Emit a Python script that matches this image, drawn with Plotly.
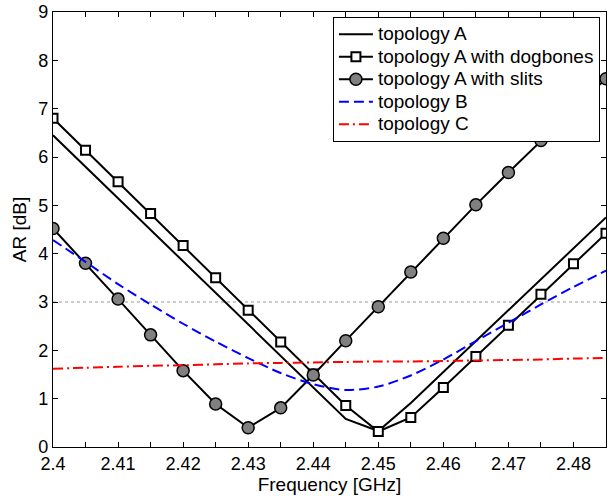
import plotly.graph_objects as go

# ---------------- data ----------------
freq = [2.400, 2.405, 2.410, 2.415, 2.420, 2.425, 2.430, 2.435, 2.440,
        2.445, 2.450, 2.455, 2.460, 2.465, 2.470, 2.475, 2.480, 2.485]

topo_a = [6.45, 5.80, 5.15, 4.49, 3.84, 3.19, 2.54, 1.88, 1.23,
          0.58, 0.33, 0.91, 1.55, 2.19, 2.83, 3.47, 4.11, 4.75]

topo_a_dogbones = [6.80, 6.14, 5.49, 4.83, 4.17, 3.50, 2.83, 2.17, 1.51,
                   0.86, 0.32, 0.61, 1.23, 1.87, 2.52, 3.16, 3.79, 4.42]

topo_a_slits = [4.52, 3.80, 3.06, 2.32, 1.58, 0.89, 0.40, 0.81, 1.49,
                2.20, 2.90, 3.62, 4.32, 5.01, 5.68, 6.34, 6.98, 7.62]

topo_b = [4.28, 3.83, 3.37, 2.95, 2.55, 2.18, 1.84, 1.53, 1.30,
          1.18, 1.25, 1.48, 1.81, 2.19, 2.57, 2.95, 3.31, 3.65]

topo_c = [1.62, 1.64, 1.66, 1.68, 1.69, 1.71, 1.73, 1.74, 1.75,
          1.76, 1.77, 1.77, 1.78, 1.79, 1.80, 1.81, 1.83, 1.84]

series_names = ["topology A", "topology A with dogbones", "topology A with slits",
                "topology B", "topology C"]

threshold_db = 3

x_tickvals = [2.400, 2.405, 2.410, 2.415, 2.420, 2.425, 2.430, 2.435, 2.440,
              2.445, 2.450, 2.455, 2.460, 2.465, 2.470, 2.475, 2.480, 2.485]
x_ticktext = ["2.4", "", "2.41", "", "2.42", "", "2.43", "", "2.44",
              "", "2.45", "", "2.46", "", "2.47", "", "2.48", ""]
y_tickvals = [0, 1, 2, 3, 4, 5, 6, 7, 8, 9]

FONT = "Liberation Sans, Arial, Helvetica, sans-serif"


def leg(name):
    return '<span style="font-size:19px">' + name + "</span>"


fig = go.Figure()

fig.add_trace(go.Scatter(x=freq, y=topo_a, mode="lines", name=leg(series_names[0]),
                         line=dict(color="black", width=2)))
fig.add_trace(go.Scatter(x=freq, y=topo_a_dogbones, mode="lines+markers",
                         name=leg(series_names[1]),
                         line=dict(color="black", width=2),
                         marker=dict(symbol="square", size=9, color="white",
                                     line=dict(color="black", width=2))))
fig.add_trace(go.Scatter(x=freq, y=topo_a_slits, mode="lines+markers",
                         name=leg(series_names[2]),
                         line=dict(color="black", width=2),
                         marker=dict(symbol="circle", size=12, color="#808080",
                                     line=dict(color="black", width=1.5))))
fig.add_trace(go.Scatter(x=freq, y=topo_b, mode="lines", name=leg(series_names[3]),
                         line=dict(color="blue", width=2, dash="10px,5px",
                                   shape="spline", smoothing=0.8)))
fig.add_trace(go.Scatter(x=freq, y=topo_c, mode="lines", name=leg(series_names[4]),
                         line=dict(color="red", width=2, dash="10px,4px,2px,4px",
                                   shape="spline", smoothing=0.8)))

fig.add_shape(type="line", xref="paper", x0=0, x1=1, yref="y",
              y0=threshold_db, y1=threshold_db,
              line=dict(color="#999999", width=1, dash="dot"), layer="below")

axis_common = dict(showline=True, linecolor="black", linewidth=1.3,
                   mirror="ticks", ticks="inside", ticklen=5,
                   tickcolor="black", tickwidth=1, showgrid=False,
                   zeroline=False, automargin=False,
                   tickfont=dict(family=FONT, size=18, color="black"))

fig.update_xaxes(range=[2.4, 2.485], tickmode="array", tickvals=x_tickvals,
                 ticktext=x_ticktext,
                 title=dict(text="Frequency [GHz]", standoff=0,
                            font=dict(family=FONT, size=19, color="black")),
                 **axis_common)
fig.update_yaxes(range=[0, 9], tickmode="array", tickvals=y_tickvals,
                 title=dict(text="AR [dB]", standoff=6,
                            font=dict(family=FONT, size=19, color="black")),
                 **axis_common)

fig.update_layout(
    width=613, height=496,
    margin=dict(l=53, r=7, t=12, b=49),
    plot_bgcolor="white", paper_bgcolor="white",
    font=dict(family=FONT, size=18, color="black"),
    legend=dict(x=0.989, y=0.9885, xanchor="right", yanchor="top",
                bgcolor="white", bordercolor="black", borderwidth=1,
                font=dict(family=FONT, size=15, color="black"),
                tracegroupgap=0, itemwidth=34),
    showlegend=True,
)

fig.write_html("out.html", config={"displayModeBar": False},
               post_script="document.body.style.margin='0';document.body.style.overflow='hidden';")
